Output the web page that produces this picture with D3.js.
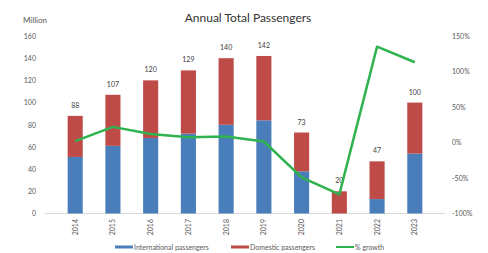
<!DOCTYPE html>
<html>
<head>
<meta charset="utf-8">
<script src="https://cdn.jsdelivr.net/npm/d3@7"></script>
<style>
  body { margin: 0; background: #fff; }
  svg { font-family: Lato, "Open Sans", sans-serif; }
</style>
</head>
<body>
<svg id="chart" width="488" height="253"></svg>
<script>
// data
var years = ["2014", "2015", "2016", "2017", "2018", "2019", "2020", "2021", "2022", "2023"];
var totals = [88, 107, 120, 129, 140, 142, 73, 20, 47, 100];
var international = [51, 61, 68, 72, 80, 84, 38, 0, 13, 54];
var domestic = [37, 46, 52, 57, 60, 58, 35, 20, 34, 46];
var growth = [2, 22, 12, 7.5, 8.5, 1.4, -49, -73, 135, 113];
var leftTicks = [0, 20, 40, 60, 80, 100, 120, 140, 160];
var rightTicks = [-100, -50, 0, 50, 100, 150];

var svg = d3.select("#chart");
var blue = "#4a7ebb", red = "#be4b48", green = "#2fb34f", txt = "#595959";

var x = d3.scaleBand().domain(years).range([45, 445]).padding(0.6);
var y = d3.scaleLinear().domain([0, 160]).range([213.5, 36]);
var y2 = d3.scaleLinear().domain([-100, 150]).range([213.5, 36]);

// title
svg.append("text").attr("x", 248).attr("y", 22).attr("text-anchor", "middle")
    .attr("font-size", 12).attr("fill", "#333").text("Annual Total Passengers");
svg.append("text").attr("x", 23).attr("y", 23).attr("font-size", 8).attr("fill", txt).text("Million");

// left axis
var la = svg.append("g").attr("transform", "translate(36,0)")
    .call(d3.axisLeft(y).tickValues(leftTicks).tickSize(0).tickPadding(0));
la.select(".domain").remove();
la.selectAll("text").attr("font-size", 7).attr("fill", txt).attr("font-family", "Lato, sans-serif");

// right axis
var ra = svg.append("g").attr("transform", "translate(452,0)")
    .call(d3.axisRight(y2).tickValues(rightTicks).tickSize(0).tickPadding(0).tickFormat(function(d){ return d + "%"; }));
ra.select(".domain").remove();
ra.selectAll("text").attr("font-size", 7).attr("fill", txt).attr("font-family", "Lato, sans-serif");

// baseline
svg.append("line").attr("x1", 45).attr("x2", 445).attr("y1", y(0)).attr("y2", y(0))
    .attr("stroke", "#d9d9d9").attr("stroke-width", 1);

// stacked bars
svg.selectAll(".intl").data(years).enter().append("rect")
    .attr("x", function(d){ return x(d); })
    .attr("width", x.bandwidth())
    .attr("y", function(d, i){ return y(international[i]); })
    .attr("height", function(d, i){ return y(0) - y(international[i]); })
    .attr("fill", blue);
svg.selectAll(".dom").data(years).enter().append("rect")
    .attr("x", function(d){ return x(d); })
    .attr("width", x.bandwidth())
    .attr("y", function(d, i){ return y(international[i] + domestic[i]); })
    .attr("height", function(d, i){ return y(international[i]) - y(international[i] + domestic[i]); })
    .attr("fill", red);

// total labels
svg.selectAll(".tot").data(years).enter().append("text")
    .attr("x", function(d){ return x(d) + x.bandwidth() / 2; })
    .attr("y", function(d, i){ return y(totals[i]) - 8; })
    .attr("text-anchor", "middle").attr("font-size", 7).attr("fill", "#404040")
    .text(function(d, i){ return totals[i]; });

// growth line
var line = d3.line()
    .x(function(d, i){ return x(years[i]) + x.bandwidth() / 2; })
    .y(function(d){ return y2(d); });
svg.append("path").datum(growth).attr("d", line)
    .attr("fill", "none").attr("stroke", green).attr("stroke-width", 2.5)
    .attr("stroke-linejoin", "round");

// x labels, rotated
svg.selectAll(".xl").data(years).enter().append("text")
    .attr("transform", function(d){ return "translate(" + (x(d) + x.bandwidth() / 2 + 2.5) + ",219) rotate(-90)"; })
    .attr("text-anchor", "end").attr("font-size", 7).attr("fill", txt)
    .text(function(d){ return d; });

// legend
var legend = [
    {name: "International passengers", color: blue, x: 115, h: 3},
    {name: "Domestic passengers", color: red, x: 231, h: 3},
    {name: "% growth", color: green, x: 336, h: 2}
];
legend.forEach(function(l){
    svg.append("rect").attr("x", l.x).attr("y", 247 - l.h / 2).attr("width", 18).attr("height", l.h).attr("fill", l.color);
    svg.append("text").attr("x", l.x + 19).attr("y", 249.5).attr("font-size", 7).attr("fill", txt).text(l.name);
});
</script>
</body>
</html>
